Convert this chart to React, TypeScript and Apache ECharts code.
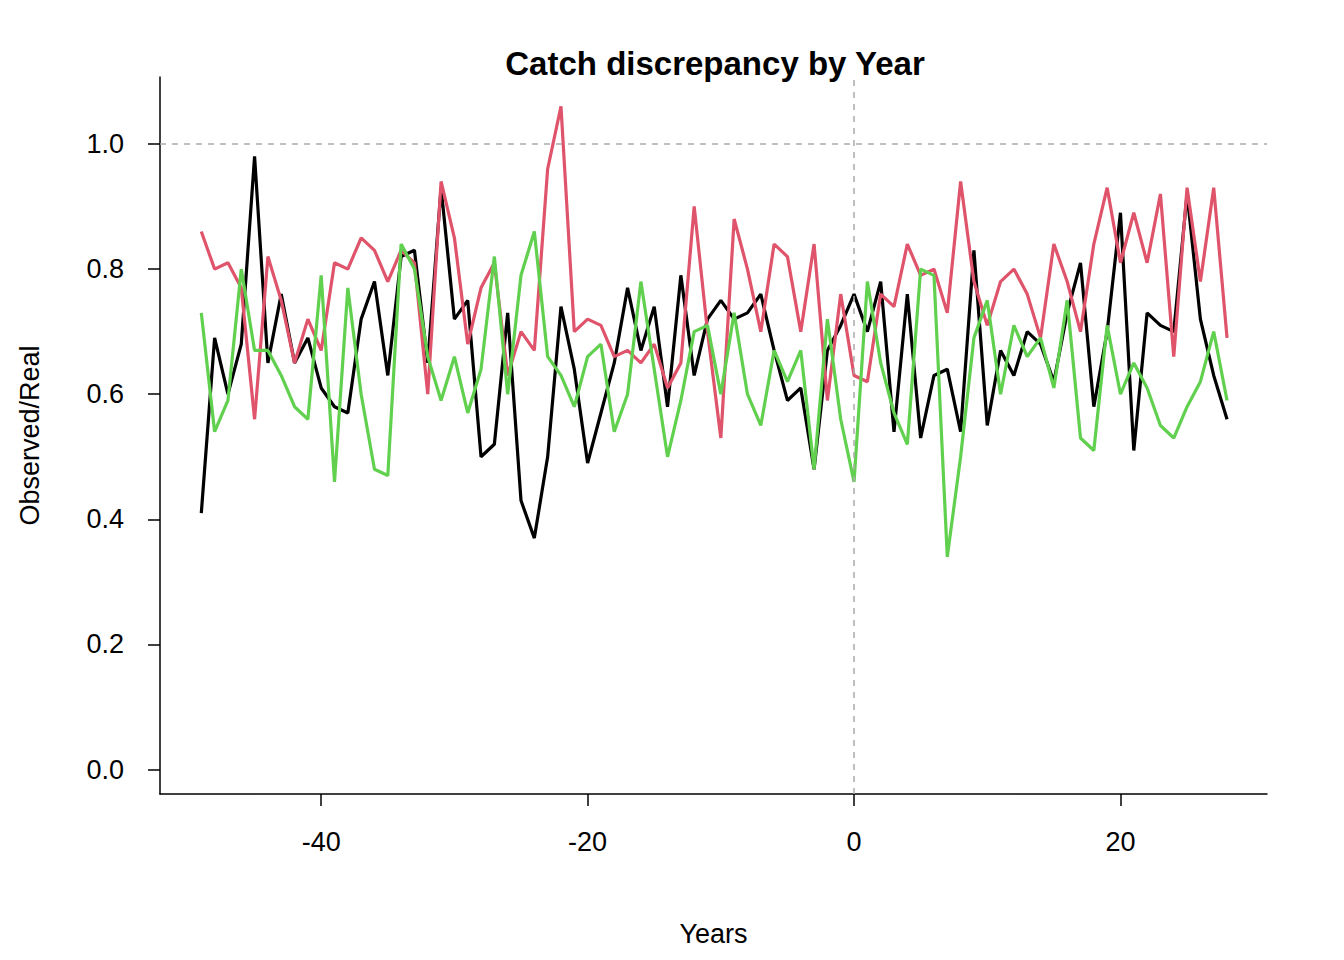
import React, { useEffect, useRef } from "react";
import * as echarts from "echarts";

const years: number[] = [];
for (let y = -49; y <= 28; y++) years.push(y);

const blackValues = [
  0.41, 0.69, 0.6, 0.68, 0.98, 0.65, 0.76, 0.65, 0.69, 0.61, 0.58, 0.57, 0.72, 0.78, 0.63, 0.82, 0.83, 0.65,
  0.93, 0.72, 0.75, 0.5, 0.52, 0.73, 0.43, 0.37, 0.5, 0.74, 0.64, 0.49, 0.57, 0.65, 0.77, 0.67, 0.74, 0.58,
  0.79, 0.63, 0.72, 0.75, 0.72, 0.73, 0.76, 0.67, 0.59, 0.61, 0.48, 0.67, 0.71, 0.76, 0.7, 0.78, 0.54, 0.76,
  0.53, 0.63, 0.64, 0.54, 0.83, 0.55, 0.67, 0.63, 0.7, 0.68, 0.62, 0.73, 0.81, 0.58, 0.7, 0.89, 0.51, 0.73,
  0.71, 0.7, 0.92, 0.72, 0.63, 0.56,
];
const redValues = [
  0.86, 0.8, 0.81, 0.77, 0.56, 0.82, 0.75, 0.65, 0.72, 0.67, 0.81, 0.8, 0.85, 0.83, 0.78, 0.83, 0.81, 0.6,
  0.94, 0.85, 0.68, 0.77, 0.81, 0.63, 0.7, 0.67, 0.96, 1.06, 0.7, 0.72, 0.71, 0.66, 0.67, 0.65, 0.68, 0.61,
  0.65, 0.9, 0.7, 0.53, 0.88, 0.8, 0.7, 0.84, 0.82, 0.7, 0.84, 0.59, 0.76, 0.63, 0.62, 0.76, 0.74, 0.84,
  0.79, 0.8, 0.73, 0.94, 0.78, 0.71, 0.78, 0.8, 0.76, 0.69, 0.84, 0.78, 0.7, 0.84, 0.93, 0.81, 0.89, 0.81,
  0.92, 0.66, 0.93, 0.78, 0.93, 0.69,
];
const greenValues = [
  0.73, 0.54, 0.59, 0.8, 0.67, 0.67, 0.63, 0.58, 0.56, 0.79, 0.46, 0.77, 0.6, 0.48, 0.47, 0.84, 0.8, 0.66,
  0.59, 0.66, 0.57, 0.64, 0.82, 0.6, 0.79, 0.86, 0.66, 0.63, 0.58, 0.66, 0.68, 0.54, 0.6, 0.78, 0.64, 0.5,
  0.59, 0.7, 0.71, 0.6, 0.73, 0.6, 0.55, 0.67, 0.62, 0.67, 0.48, 0.72, 0.56, 0.46, 0.78, 0.65, 0.57, 0.52,
  0.8, 0.79, 0.34, 0.5, 0.69, 0.75, 0.6, 0.71, 0.66, 0.69, 0.61, 0.75, 0.53, 0.51, 0.71, 0.6, 0.65, 0.61,
  0.55, 0.53, 0.58, 0.62, 0.7, 0.59,
];
const xTicks = [-40, -20, 0, 20];
const yTicks = [0, 0.2, 0.4, 0.6, 0.8, 1.0];

const font = "Liberation Sans, Arial, sans-serif";

const App: React.FC = () => {
  const chartRef = useRef<HTMLDivElement>(null);

  useEffect(() => {
    if (!chartRef.current) return;
    const chart = echarts.init(chartRef.current, undefined, { renderer: "svg" });

    const mk = (vals: number[], color: string) => ({
      type: "line",
      data: years.map((y, i) => [y, vals[i]]),
      symbol: "none",
      lineStyle: { color, width: 3.2 },
      itemStyle: { color },
    });

    const blackSeries: any = mk(blackValues, "#000000");
    blackSeries.markLine = {
      silent: true,
      symbol: "none",
      label: { show: false },
      lineStyle: { color: "#aaaaaa", type: [6, 6], width: 1.5 },
      data: [{ yAxis: 1 }, { xAxis: 0 }],
    };

    chart.setOption({
      animation: false,
      title: {
        text: "Catch discrepancy by Year",
        left: 702,
        textAlign: "center",
        top: 34,
        textStyle: { fontFamily: font, fontSize: 33, fontWeight: "bold", color: "#000" },
      },
      grid: { left: 145, right: 69, top: 69, bottom: 147 },
      xAxis: {
        type: "value",
        min: -52.1,
        max: 31,
        name: "Years",
        nameLocation: "middle",
        nameGap: 126,
        nameTextStyle: { fontFamily: font, fontSize: 27, color: "#000" },
        axisLine: { show: true, onZero: false, lineStyle: { color: "#000", width: 1.5 } },
        axisTick: { show: true, length: 12, customValues: xTicks, lineStyle: { color: "#000", width: 1.5 } },
        axisLabel: { customValues: xTicks, margin: 34, fontFamily: font, fontSize: 27, color: "#000" },
        splitLine: { show: false },
      },
      yAxis: {
        type: "value",
        min: -0.039,
        max: 1.107,
        name: "Observed/Real",
        nameLocation: "middle",
        nameGap: 117,
        nameTextStyle: { fontFamily: font, fontSize: 27, color: "#000" },
        axisLine: { show: true, onZero: false, lineStyle: { color: "#000", width: 1.5 } },
        axisTick: { show: true, length: 12, customValues: yTicks, lineStyle: { color: "#000", width: 1.5 } },
        axisLabel: {
          customValues: yTicks,
          margin: 36,
          fontFamily: font,
          fontSize: 27,
          color: "#000",
          formatter: (v: number) => v.toFixed(1),
        },
        splitLine: { show: false },
      },
      series: [blackSeries, mk(redValues, "#DF536B"), mk(greenValues, "#61D04F")],
    });

    return () => chart.dispose();
  }, []);

  return <div ref={chartRef} style={{ width: 1328, height: 944 }} />;
};

export default App;
